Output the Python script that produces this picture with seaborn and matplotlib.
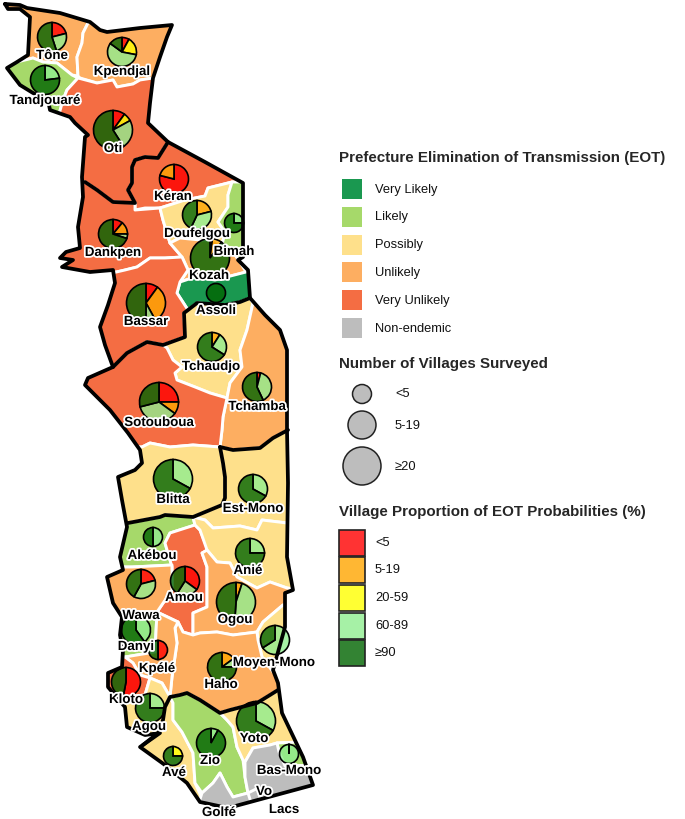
import matplotlib
matplotlib.use("Agg")
import matplotlib.pyplot as plt
import matplotlib.patheffects as pe
from matplotlib.colors import to_rgba
from matplotlib.patches import Polygon, Rectangle
import pandas as pd
import seaborn as sns

# EOT classes for the prefectures
VL, LI, PO, UN, VU, NE = "#1a9850", "#a6d96a", "#fee08b", "#fdae61", "#f46d43", "#bdbdbd"
eot_labels = ["Very Likely", "Likely", "Possibly", "Unlikely", "Very Unlikely", "Non-endemic"]
eot_colors = [VL, LI, PO, UN, VU, NE]

# country outline
outline = [(5,4),(20,5),(27,8),(60,13),(90,22),(100,30),(107,32),(140,28),(172,25),(167,37),(160,57),(153,78),
           (150,103),(148,123),(168,142),(205,162),(243,183),(243,257),(238,260),(248,270),(250,298),(265,315),
           (280,330),(287,350),(287,430),(288,483),(287,557),(293,590),(285,593),(285,627),(273,670),(278,683),
           (282,713),(303,757),(313,785),(228,808),(200,802),(187,783),(165,765),(140,747),(160,733),(145,735),
           (127,727),(125,707),(108,687),(108,673),(122,667),(123,650),(120,635),(122,617),(113,603),(107,577),
           (123,570),(120,557),(127,527),(122,500),(118,477),(135,470),(142,463),(140,450),(128,433),(110,410),
           (85,385),(88,378),(113,367),(105,345),(100,327),(108,305),(115,283),(113,270),(90,272),(62,267),
           (73,260),(60,258),(66,252),(80,248),(78,227),(83,197),(82,177),(85,137),(88,135),(75,123),(70,117),
           (50,110),(48,100),(33,93),(20,85),(7,68),(17,62),(28,55),(30,17),(20,9),(8,9)]

# black lines between the regions
savanes_kara = [(168,142),(158,158),(145,157),(135,160),(132,167),(132,183),(128,190),(135,203),(113,202),(97,190),(85,182)]
kara_centrale = [(113,367),(127,353),(147,342),(163,345),(185,337),(184,313),(188,310),(197,303),(225,305),(240,302),(250,298)]
centrale_east = [(220,447),(233,450),(260,448),(273,438),(288,430)]
centrale_plateaux = [(220,447),(223,463),(225,477),(225,498),(222,505),(193,517),(165,515),(160,517),(128,523)]
plateaux_maritime = [(143,745),(158,733),(163,720),(165,707),(170,697),(180,695),(187,693),(200,700),(220,713),
                     (230,710),(257,703),(270,695),(278,690)]

# prefecture shapes, they run past the coast and get clipped to the outline
tone = [(0,0),(90,0),(88,23),(83,33),(82,43),(77,57),(78,76),(72,75),(57,63),(43,62),(33,58),(17,62),(0,62)]
tandjouare = [(0,62),(17,62),(33,58),(43,62),(57,63),(72,75),(78,78),(67,90),(63,100),(58,118),(30,118),(0,90)]
kpendjal = [(88,23),(90,0),(200,0),(200,78),(153,78),(140,80),(133,84),(117,87),(113,80),(97,83),(80,78),(78,76),(77,57),(82,43),(83,33)]
oti = [(78,78),(97,83),(113,80),(117,87),(133,84),(140,80),(153,78),(200,78),(200,142),(168,142),(158,158),(145,157),
       (135,160),(132,167),(132,183),(128,190),(135,203),(113,202),(97,190),(85,182),(40,182),(40,118),(58,118),(63,100),(67,90)]
keran = [(135,203),(128,190),(132,183),(132,167),(135,160),(145,157),(158,158),(168,142),(260,142),(260,183),(232,182),
         (208,188),(205,196),(185,200),(160,208),(145,208),(135,210)]
dankpen = [(135,203),(135,210),(160,208),(163,220),(170,243),(182,257),(165,258),(150,258),(137,267),(125,270),(112,273),
           (40,273),(40,182),(85,182),(97,190),(113,202)]
doufelgou = [(160,208),(185,200),(205,196),(208,188),(232,182),(228,195),(228,207),(218,222),(225,232),(222,245),(215,240),
             (200,240),(180,238),(170,243),(163,220)]
bimah = [(232,182),(260,182),(260,262),(240,262),(235,255),(228,247),(222,245),(225,232),(218,222),(228,207),(228,195)]
kozah = [(170,243),(180,238),(200,240),(215,240),(222,245),(228,247),(235,255),(240,262),(246,272),(215,280),(195,277),
         (180,282),(188,270),(182,257)]
assoli = [(180,282),(195,277),(215,280),(246,272),(270,272),(270,298),(250,298),(240,302),(225,305),(197,303),(188,310),(177,293)]
bassar = [(112,273),(125,270),(137,267),(150,258),(165,258),(182,257),(188,270),(180,282),(177,293),(188,310),(184,313),
          (185,337),(163,345),(147,342),(127,353),(113,367),(60,367),(60,273)]
tchaudjo = [(163,345),(185,337),(184,313),(188,310),(197,303),(225,305),(240,302),(250,298),(253,303),(247,330),(240,350),
            (242,367),(230,383),(227,398),(210,393),(195,387),(177,380),(175,373),(182,367),(173,360),(167,348)]
tchamba = [(253,303),(250,298),(300,298),(300,430),(288,430),(273,438),(260,448),(233,450),(220,447),(222,430),(223,417),
           (227,398),(230,383),(242,367),(240,350),(247,330)]
sotouboua = [(113,367),(127,353),(147,342),(163,345),(167,348),(173,360),(182,367),(175,373),(177,380),(195,387),(210,393),
             (227,398),(223,417),(222,430),(220,447),(193,445),(170,447),(150,443),(142,447),(60,447),(60,367)]
blitta = [(142,447),(150,443),(170,447),(193,445),(220,447),(223,463),(225,477),(225,498),(222,505),(193,517),(165,515),
          (160,517),(128,523),(100,523),(100,447)]
est_mono = [(220,447),(233,450),(260,448),(273,438),(288,430),(300,430),(300,523),(287,523),(262,520),(257,530),(240,526),
            (213,528),(205,520),(193,517),(222,505),(225,498),(225,477),(223,463)]
akebou = [(100,523),(128,523),(160,517),(165,515),(193,517),(195,525),(170,533),(165,543),(170,560),(172,565),(132,567),(100,567)]
amou = [(170,533),(195,525),(200,530),(208,550),(202,553),(207,567),(207,607),(193,613),(193,635),(183,632),(178,622),
        (157,612),(172,590),(172,567),(165,543)]
anie = [(205,520),(213,528),(240,526),(257,530),(262,520),(287,523),(300,523),(300,590),(287,588),(270,582),(257,588),
        (237,577),(230,563),(217,562),(207,550),(200,530),(195,525),(193,517)]
ogou = [(207,550),(217,562),(230,563),(237,577),(257,588),(270,582),(287,588),(300,590),(300,605),(283,605),(263,622),
        (257,632),(233,635),(217,632),(200,633),(193,635),(193,613),(207,607),(207,567),(202,553)]
moyen_mono = [(263,622),(283,605),(300,605),(300,672),(273,672),(262,657),(258,640),(257,632)]
haho = [(193,635),(200,633),(217,632),(233,635),(257,632),(258,640),(262,657),(273,672),(290,675),(290,690),(278,690),(270,695),
        (257,703),(230,710),(220,713),(200,700),(187,693),(180,695),(170,697),(172,677),(177,643),(175,628),(178,622),(183,632)]
wawa = [(100,567),(132,567),(172,565),(172,590),(157,612),(100,612)]
danyi = [(100,612),(157,612),(155,652),(125,657),(100,660)]
kpele = [(157,612),(178,622),(175,628),(177,643),(172,677),(170,697),(162,683),(150,678),(140,675),(133,663),(125,657),(155,652)]
kloto = [(100,660),(125,657),(133,663),(140,675),(150,678),(145,695),(125,697),(100,697)]
agou = [(100,697),(125,697),(145,695),(150,678),(162,683),(170,697),(165,707),(163,720),(158,733),(143,745),(100,750)]
ave = [(173,703),(173,720),(182,732),(193,753),(195,783),(205,805),(170,805),(130,750),(143,745),(158,733),(163,720),(165,707),(170,697)]
zio = [(173,703),(170,697),(180,695),(187,693),(200,700),(220,713),(227,720),(233,727),(237,747),(243,760),(245,777),(248,793),
       (233,797),(227,787),(220,773),(213,783),(202,793),(195,783),(193,753),(182,732),(173,720)]
golfe = [(202,793),(213,783),(220,773),(227,787),(233,797),(248,793),(258,803),(255,815),(195,815)]
yoto = [(220,713),(230,710),(257,703),(270,695),(278,690),(300,690),(300,742),(277,743),(270,745),(253,748),(245,762),
        (243,760),(237,747),(233,727),(227,720)]
bas_mono = [(277,743),(300,742),(325,765),(285,766),(279,752)]
lacs = [(245,762),(253,748),(270,745),(277,743),(279,752),(285,766),(325,765),(325,815),(258,812),(260,790),(248,793),(245,777)]
vo = [(248,793),(258,788),(263,815),(255,815)]

shapes = [tone, tandjouare, kpendjal, oti, keran, dankpen, doufelgou, bimah, kozah, assoli, bassar, tchaudjo, tchamba,
          sotouboua, blitta, est_mono, akebou, amou, anie, ogou, moyen_mono, haho, wawa, danyi, kpele, kloto, agou,
          ave, zio, golfe, yoto, bas_mono, lacs, vo]
shape_class = [UN, LI, UN, VU, VU, VU, PO, LI, UN, VL, VU, PO, UN, VU, PO, PO, LI, VU, PO, UN, PO, UN, UN, LI, UN, VU, PO,
               PO, LI, NE, PO, LI, NE, NE]

# pies: share of villages per probability class, clockwise from 12 o'clock
pie_names = ["Tône", "Kpendjal", "Tandjouaré", "Oti", "Kéran", "Doufelgou", "Bimah", "Dankpen", "Kozah", "Assoli",
             "Bassar", "Tchaudjo", "Sotouboua", "Tchamba", "Blitta", "Est-Mono", "Akébou", "Anié", "Wawa", "Amou",
             "Ogou", "Danyi", "Kpélé", "Moyen-Mono", "Haho", "Kloto", "Agou", "Zio", "Avé", "Yoto", "Bas-Mono"]
pie_x = [52, 122, 45, 113, 174, 197, 234, 113, 210, 216, 146, 212, 159, 257, 173, 253, 153, 250, 141, 185, 236, 136, 158,
         275, 222, 126, 150, 211, 173, 256, 289]
pie_y = [37, 52, 80, 130, 179, 215, 223, 234, 258, 293, 303, 347, 402, 387, 479, 489, 537, 553, 584, 581, 602, 630, 650,
         640, 667, 682, 708, 743, 756, 721, 754]
pie_r = [14.5, 14.5, 14.5, 19.5, 14.5, 14.5, 9.5, 14.5, 19.5, 9.5, 19.5, 14.5, 19.5, 14.5, 19.5, 14.5, 9.5, 14.5, 14.5,
         14.5, 19.5, 14.5, 9.5, 14.5, 14.5, 14.5, 14.5, 14.5, 9.5, 19.5, 9.5]
share_red = [21, 8, 0, 10, 79, 0, 0, 11, 2, 0, 10, 0, 25, 4, 0, 0, 0, 0, 21, 35, 0, 0, 50, 0, 0, 53, 0, 0, 0, 0, 0]
share_orange = [0, 0, 0, 0, 21, 21, 0, 14, 8, 0, 32, 9, 10, 0, 0, 0, 0, 0, 0, 0, 5, 0, 0, 0, 15, 0, 0, 0, 0, 0, 0]
share_yellow = [0, 20, 0, 7, 0, 0, 0, 0, 0, 0, 0, 0, 0, 0, 0, 0, 0, 0, 0, 0, 0, 0, 0, 0, 0, 0, 0, 0, 25, 0, 0]
share_light = [24, 57, 23, 24, 0, 36, 25, 5, 0, 0, 8, 25, 36, 39, 33, 33, 50, 25, 37, 24, 46, 40, 0, 66, 10, 0, 25, 8, 0, 33, 99.9]
share_dark = [55, 15, 77, 59, 0, 43, 75, 70, 90, 99.9, 50, 66, 29, 57, 67, 67, 50, 75, 42, 41, 49, 60, 50, 34, 75, 47, 75, 92, 75, 67, 0.1]

# label positions
label_names = ["Tône", "Kpendjal", "Tandjouaré", "Oti", "Kéran", "Doufelgou", "Bimah", "Dankpen", "Kozah", "Assoli",
               "Bassar", "Tchaudjo", "Sotouboua", "Tchamba", "Blitta", "Est-Mono", "Akébou", "Anié", "Wawa", "Amou",
               "Ogou", "Danyi", "Kpélé", "Moyen-Mono", "Haho", "Kloto", "Agou", "Avé", "Zio", "Yoto", "Bas-Mono",
               "Vo", "Lacs", "Golfé"]
label_x = [52, 122, 45, 113, 173, 197, 234, 113, 209, 216, 146, 211, 159, 257, 173, 253, 152, 248, 141, 184, 235, 136, 157,
           274, 221, 126, 149, 174, 210, 254, 289, 264, 284, 219]
label_y = [56, 72, 101, 149, 197, 234, 252, 253, 276, 311, 322, 367, 423, 407, 500, 509, 556, 571, 616, 598, 620, 647, 669,
           663, 685, 700, 727, 773, 761, 739, 771, 792, 810, 813]

# legends
size_labels = ["<5", "5-19", "≥20"]
size_diam = [19, 28, 38]
prob_labels = ["<5", "5-19", "20-59", "60-89", "≥90"]
prob_colors = ["red", "orange", "yellow", "lightgreen", "darkgreen"]
pie_colors = [to_rgba(c, 0.8) for c in prob_colors]

sns.set_theme(style="white")
plt.rcParams["font.family"] = ["Liberation Sans", "DejaVu Sans"]

fig = plt.figure(figsize=(6.85, 8.19), dpi=100)
ax = fig.add_axes([0, 0, 1, 1])

country = Polygon(outline, closed=True, transform=ax.transData)
for shape, col in zip(shapes, shape_class):
    xs, ys = zip(*shape)
    for poly in ax.fill(xs, ys, facecolor=col, edgecolor="white", lw=2.1, joinstyle="round"):
        poly.set_clip_path(country)

for line in [outline + outline[:1], savanes_kara, kara_centrale, centrale_east, centrale_plateaux, plateaux_maritime]:
    xs, ys = zip(*line)
    sns.lineplot(x=list(xs), y=list(ys), sort=False, estimator=None, color="black", lw=2.7,
                 solid_joinstyle="round", ax=ax)

shares = pd.DataFrame({"red": share_red, "orange": share_orange, "yellow": share_yellow,
                       "light": share_light, "dark": share_dark})
for i in range(len(pie_names)):
    vals = shares.iloc[i].to_numpy()
    keep = vals > 0
    # y axis is flipped, so counterclock here reads clockwise on the page
    ax.pie(vals[keep], colors=[c for c, k in zip(pie_colors, keep) if k], center=(pie_x[i], pie_y[i]), radius=pie_r[i],
           startangle=-90, counterclock=True, frame=True, wedgeprops=dict(edgecolor="black", lw=1.2))

halo = [pe.withStroke(linewidth=2.6, foreground="white")]
for name, x, y in zip(label_names, label_x, label_y):
    ax.text(x, y, name, ha="center", va="center", fontsize=9.6, fontweight="bold", color="black",
            path_effects=halo, zorder=10)

# legend 1
ax.text(339, 158, "Prefecture Elimination of Transmission (EOT)", fontsize=10.9, fontweight="bold", va="center")
for i, (lab, col) in enumerate(zip(eot_labels, eot_colors)):
    yc = 189 + i * 27.8
    ax.add_patch(Rectangle((342, yc - 10), 20, 20, facecolor=col, edgecolor="none"))
    ax.text(375, yc + 0.5, lab, fontsize=9.3, va="center", color="#111111")

# legend 2
ax.text(339, 364, "Number of Villages Surveyed", fontsize=10.9, fontweight="bold", va="center")
bubbles = pd.DataFrame({"x": 362, "y": [394, 425, 466], "lab": size_labels})
sns.scatterplot(data=bubbles, x="x", y="y", size="lab", legend=False,
                sizes={l: (d * 0.72) ** 2 for l, d in zip(size_labels, size_diam)},
                color="#bdbdbd", edgecolor="#222222", linewidth=1.1, ax=ax)
for lab, yc in zip(size_labels, [394, 426, 467]):
    ax.text(395, yc, lab, fontsize=9.3, va="center", color="#111111")

# legend 3
ax.text(339, 512, "Village Proportion of EOT Probabilities (%)", fontsize=10.9, fontweight="bold", va="center")
for i, (lab, col) in enumerate(zip(prob_labels, pie_colors)):
    yc = 542.5 + i * 27.7
    ax.add_patch(Rectangle((339.5, yc - 13), 25.5, 26, facecolor=col, edgecolor="#222222", lw=1.2))
    ax.text(375, yc, lab, fontsize=9.3, va="center", color="#111111")

ax.set_xlim(0, 685)
ax.set_ylim(819, 0)
ax.set_aspect("auto")
ax.axis("off")

fig.savefig("out.png", dpi=100)
